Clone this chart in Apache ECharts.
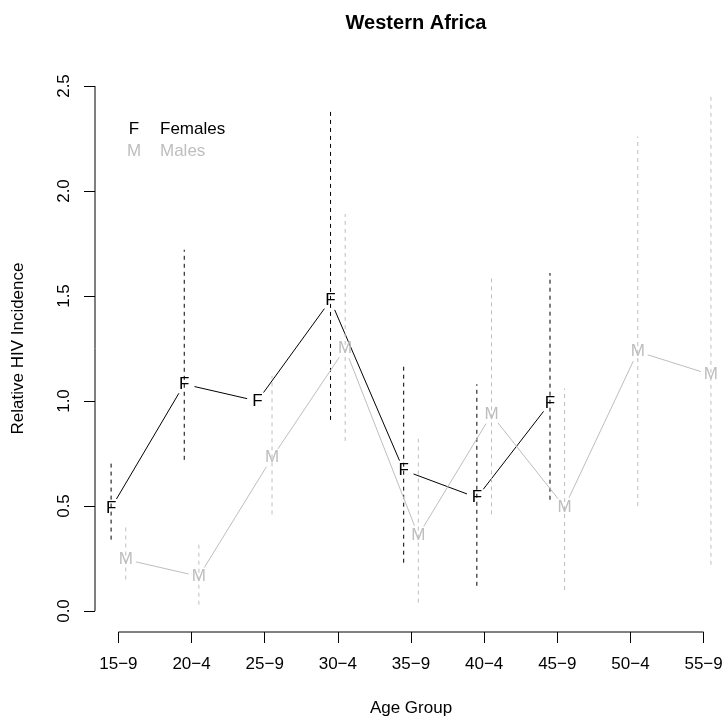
<!DOCTYPE html>
<html>
<head>
<meta charset="utf-8">
<title>Western Africa – Relative HIV Incidence</title>
<script src="https://cdn.jsdelivr.net/npm/echarts@6/dist/echarts.min.js"></script>
<style>
  html, body { margin: 0; padding: 0; background: #ffffff; }
  #chart { width: 727px; height: 723px; }
</style>
</head>
<body>
<div id="chart"></div>
<script>
// Age groups along the x axis (positions 1..9)
const ageGroups = ['15\u22129', '20\u22124', '25\u22129', '30\u22124', '35\u22129', '40\u22124', '45\u22129', '50\u22124', '55\u22129'];

// Relative incidence and interval bounds, females
const femaleRR   = [0.49, 1.08, 1.00, 1.48, 0.67, 0.54, 0.99, null, null];
const femaleLow  = [0.34, 0.72, null, 0.91, 0.23, 0.12, 0.53, null, null];
const femaleHigh = [0.72, 1.72, null, 2.38, 1.18, 1.08, 1.61, null, null];

// Relative incidence and interval bounds, males
const maleRR   = [0.245, 0.165, 0.73, 1.25, 0.36, 0.935, 0.495, 1.235, 1.125];
const maleLow  = [0.15, 0.03, 0.46, 0.81, 0.04, 0.46, 0.10, 0.50, 0.22];
const maleHigh = [0.40, 0.33, 1.12, 1.89, 0.82, 1.59, 1.06, 2.26, 2.46];

// Axis ticks
const xTicks = [1, 2, 3, 4, 5, 6, 7, 8, 9];
const yTicks = [0, 0.5, 1.0, 1.5, 2.0, 2.5];

const FONT = '"Liberation Sans", Arial, Helvetica, sans-serif';
const GREY = '#bebebe';
const SHIFT = 0.1;      // females drawn left of the tick, males right
const GAP = 10.5;       // space left around each letter by the connecting lines

const X_MIN = 0.68, X_MAX = 9.32, Y_MIN = -0.1, Y_MAX = 2.6;

function xPos(i, sign) { return i + 1 + sign * SHIFT; }

function pointData(values, sign) {
  const out = [];
  values.forEach((v, i) => { if (v != null) out.push([xPos(i, sign), v]); });
  return out;
}
function segmentData(values, sign) {
  const out = [];
  for (let i = 0; i + 1 < values.length; i++) {
    if (values[i] != null && values[i + 1] != null) {
      out.push([xPos(i, sign), values[i], xPos(i + 1, sign), values[i + 1]]);
    }
  }
  return out;
}
function barData(low, high, sign) {
  const out = [];
  low.forEach((lo, i) => {
    if (lo != null && high[i] != null) out.push([xPos(i, sign), lo, high[i]]);
  });
  return out;
}

function letterRenderer(letter, color) {
  return function (params, api) {
    const p = api.coord([api.value(0), api.value(1)]);
    return {
      type: 'text', x: p[0], y: p[1],
      style: { text: letter, fill: color, font: '17px ' + FONT, align: 'center', verticalAlign: 'middle' }
    };
  };
}
function segmentRenderer(color) {
  return function (params, api) {
    const a = api.coord([api.value(0), api.value(1)]);
    const b = api.coord([api.value(2), api.value(3)]);
    const dx = b[0] - a[0], dy = b[1] - a[1];
    const len = Math.hypot(dx, dy);
    if (len <= 2 * GAP) return null;
    const ux = dx / len, uy = dy / len;
    return {
      type: 'line',
      shape: { x1: a[0] + ux * GAP, y1: a[1] + uy * GAP, x2: b[0] - ux * GAP, y2: b[1] - uy * GAP },
      style: { stroke: color, lineWidth: 1 }
    };
  };
}
function barRenderer(color) {
  return function (params, api) {
    const a = api.coord([api.value(0), api.value(1)]);
    const b = api.coord([api.value(0), api.value(2)]);
    return {
      type: 'line',
      shape: { x1: a[0], y1: a[1], x2: b[0], y2: b[1] },
      style: { stroke: color, lineWidth: 1, lineDash: [4, 4] }
    };
  };
}
// Axis lines spanning only the first to last tick
function frameRenderer(params, api) {
  const x0 = api.coord([xTicks[0], Y_MIN]);
  const x1 = api.coord([xTicks[xTicks.length - 1], Y_MIN]);
  const y0 = api.coord([X_MIN, yTicks[0]]);
  const y1 = api.coord([X_MIN, yTicks[yTicks.length - 1]]);
  return {
    type: 'group',
    children: [
      { type: 'line', shape: { x1: x0[0], y1: x0[1], x2: x1[0], y2: x1[1] }, style: { stroke: '#000', lineWidth: 1 } },
      { type: 'line', shape: { x1: y0[0], y1: y0[1], x2: y1[0], y2: y1[1] }, style: { stroke: '#000', lineWidth: 1 } }
    ]
  };
}

const chart = echarts.init(document.getElementById('chart'), null, { renderer: 'canvas' });

chart.setOption({
  animation: false,
  backgroundColor: '#ffffff',
  title: {
    text: 'Western Africa',
    left: 411, top: 8, textAlign: 'center',
    textStyle: { fontFamily: FONT, fontSize: 20, fontWeight: 'bold', color: '#000' }
  },
  grid: { left: 95, right: 0, top: 65, bottom: 91, containLabel: false },
  xAxis: {
    type: 'value', min: X_MIN, max: X_MAX,
    name: 'Age Group', nameLocation: 'middle', nameGap: 68,
    nameTextStyle: { fontFamily: FONT, fontSize: 17, color: '#000' },
    axisLine: { show: false, onZero: false },
    splitLine: { show: false },
    axisTick: { show: true, customValues: xTicks, length: 11, lineStyle: { color: '#000', width: 1 } },
    axisLabel: {
      customValues: xTicks, margin: 24,
      fontFamily: FONT, fontSize: 17, color: '#000',
      formatter: v => ageGroups[Math.round(v) - 1]
    }
  },
  yAxis: {
    type: 'value', min: Y_MIN, max: Y_MAX,
    name: 'Relative HIV Incidence', nameLocation: 'middle', nameGap: 68, nameRotate: 90,
    nameTextStyle: { fontFamily: FONT, fontSize: 17, color: '#000' },
    axisLine: { show: false, onZero: false },
    splitLine: { show: false },
    axisTick: { show: true, customValues: yTicks, length: 11, lineStyle: { color: '#000', width: 1 } },
    axisLabel: {
      customValues: yTicks, rotate: 90, margin: 22,
      fontFamily: FONT, fontSize: 17, color: '#000',
      formatter: v => v.toFixed(1)
    }
  },
  graphic: [
    { type: 'text', x: 134, y: 129, style: { text: 'F', fill: '#000', font: '17px ' + FONT, align: 'center', verticalAlign: 'middle' } },
    { type: 'text', x: 160, y: 129, style: { text: 'Females', fill: '#000', font: '17px ' + FONT, align: 'left', verticalAlign: 'middle' } },
    { type: 'text', x: 134, y: 151, style: { text: 'M', fill: GREY, font: '17px ' + FONT, align: 'center', verticalAlign: 'middle' } },
    { type: 'text', x: 160, y: 151, style: { text: 'Males', fill: GREY, font: '17px ' + FONT, align: 'left', verticalAlign: 'middle' } }
  ],
  series: [
    { type: 'custom', name: 'frame', clip: false, silent: true, data: [[0]], renderItem: frameRenderer },
    { type: 'custom', name: 'Females interval', silent: true, data: barData(femaleLow, femaleHigh, -1), renderItem: barRenderer('#000'), encode: { x: 0, y: [1, 2] } },
    { type: 'custom', name: 'Females line', silent: true, data: segmentData(femaleRR, -1), renderItem: segmentRenderer('#000'), encode: { x: [0, 2], y: [1, 3] } },
    { type: 'custom', name: 'Females', silent: true, data: pointData(femaleRR, -1), renderItem: letterRenderer('F', '#000'), encode: { x: 0, y: 1 } },
    { type: 'custom', name: 'Males interval', silent: true, data: barData(maleLow, maleHigh, 1), renderItem: barRenderer(GREY), encode: { x: 0, y: [1, 2] } },
    { type: 'custom', name: 'Males line', silent: true, data: segmentData(maleRR, 1), renderItem: segmentRenderer(GREY), encode: { x: [0, 2], y: [1, 3] } },
    { type: 'custom', name: 'Males', silent: true, data: pointData(maleRR, 1), renderItem: letterRenderer('M', GREY), encode: { x: 0, y: 1 } }
  ]
});
</script>
</body>
</html>
